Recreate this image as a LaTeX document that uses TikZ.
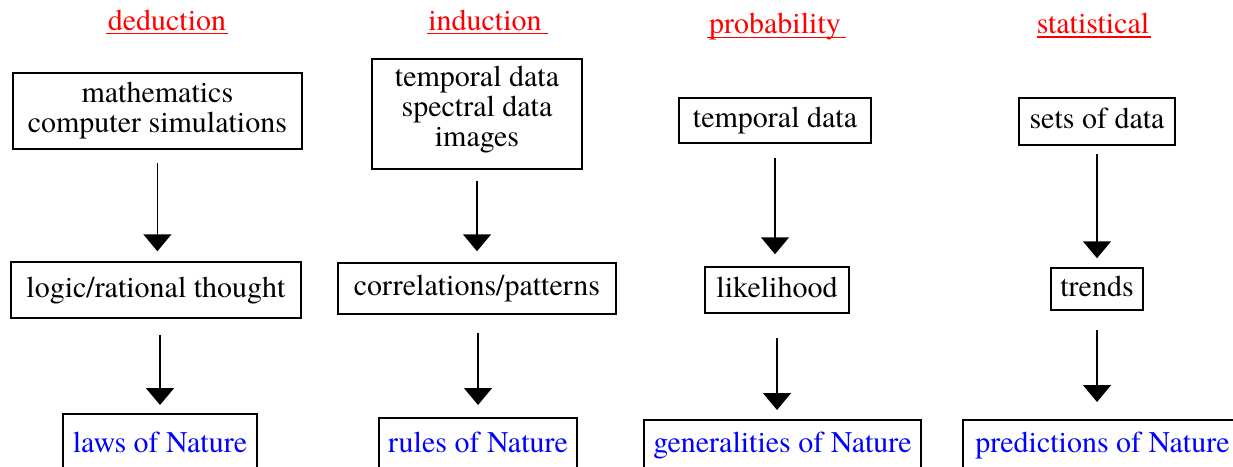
\documentclass[tikz,border=0pt]{standalone}
\usepackage{fontspec}
\newfontfamily\chartfont{texgyretermes-regular.otf}
\usetikzlibrary{arrows.meta}
\begin{document}
\begin{tikzpicture}[x=1pt,y=-1pt,
  every node/.style={font=\chartfont\fontsize{30}{30}\selectfont},
  box/.style={draw, line width=1.5pt, inner sep=0pt},
  single/.style={box, text height=21pt, text depth=7pt},
  multi/.style={box, align=center},
  resultbox/.style={box, anchor=north, text=blue, text height=22pt, text depth=7pt},
  headtext/.style={text=red, anchor=base, inner sep=0pt},
  uline/.style={red, line width=1.5pt},
  flowarrow/.style={line width=1.5pt, -{Triangle[width=28pt,length=17pt]}}]
\useasboundingbox (0,0) rectangle (1233,466);
\clip (0,0) rectangle (1233,466);

% column headings, underlined
\node[headtext] (h1) at (167,30) {deduction};
\node[headtext] (h2) at (485,30) {induction};
\node[headtext] (h3) at (775,33) {probability};
\node[headtext] (h4) at (1093,33) {statistical};
\draw[uline] ([xshift=-2pt,yshift=-3.5pt]h1.base west) -- ([xshift=2pt,yshift=-3.5pt]h1.base east);
\draw[uline] ([xshift=-1pt,yshift=-3.5pt]h2.base west) -- ([xshift=6pt,yshift=-3.5pt]h2.base east);
\draw[uline] ([xshift=-2pt,yshift=-4.5pt]h3.base west) -- ([xshift=5pt,yshift=-4.5pt]h3.base east);
\draw[uline] ([xshift=0pt,yshift=-4pt]h4.base west) -- ([xshift=2pt,yshift=-4pt]h4.base east);

% deduction
\node[multi, minimum width=289pt, minimum height=76pt] (b11) at (157.4,110.9) {mathematics\\computer simulations};
\node[single, minimum width=290pt, minimum height=56pt] (b12) at (156,290) {logic/rational thought};
\node[resultbox, minimum width=194pt, inner ysep=17pt] (b13) at (160,413) {laws of Nature};

% induction
\node[box, minimum width=210pt, minimum height=110pt,
  label={[align=center, yshift=4pt]center:{temporal data\\spectral data\\images}}] (b21) at (477,114) {};
\node[single, minimum width=278pt, minimum height=51pt] (b22) at (477,288.5) {correlations/patterns};
\node[resultbox, minimum width=198pt, inner ysep=13pt] (b23) at (478,417) {rules of Nature};

% probability
\node[single, minimum width=192pt, minimum height=45pt] (b31) at (775,120.5) {temporal data};
\node[single, minimum width=144pt, minimum height=46pt] (b32) at (777,290) {likelihood};
\node[resultbox, minimum width=277pt, inner ysep=11pt] (b33) at (782.5,419) {generalities of Nature};

% statistical
\node[single, minimum width=156pt, minimum height=47pt] (b41) at (1097,121.5) {sets of data};
\node[single, minimum width=92pt, minimum height=42pt] (b42) at (1097,289) {trends};
\node[resultbox, minimum width=279pt, inner ysep=11pt] (b43) at (1102.5,419) {predictions of Nature};

% connectors
\draw[flowarrow, shorten <=13pt, shorten >=10pt] (b11.south) -- (b11.south |- b12.north);
\draw[flowarrow, shorten <=16pt, shorten >=8pt] (b13.north |- b12.south) -- (b13.north);
\draw[flowarrow, shorten <=11pt, shorten >=11pt] (b21.south) -- (b21.south |- b22.north);
\draw[flowarrow, shorten <=18pt, shorten >=12pt] (b23.north |- b22.south) -- (b23.north);
\draw[flowarrow, shorten <=14pt, shorten >=12pt] (b31.south) -- (b31.south |- b32.north);
\draw[flowarrow, shorten <=24pt, shorten >=9pt] (b32.south) -- (b32.south |- b33.north);
\draw[flowarrow, shorten <=8pt, shorten >=9pt] (b41.south) -- (b41.south |- b42.north);
\draw[flowarrow, shorten <=19pt, shorten >=17pt] (b42.south) -- (b42.south |- b43.north);
\end{tikzpicture}
\end{document}
